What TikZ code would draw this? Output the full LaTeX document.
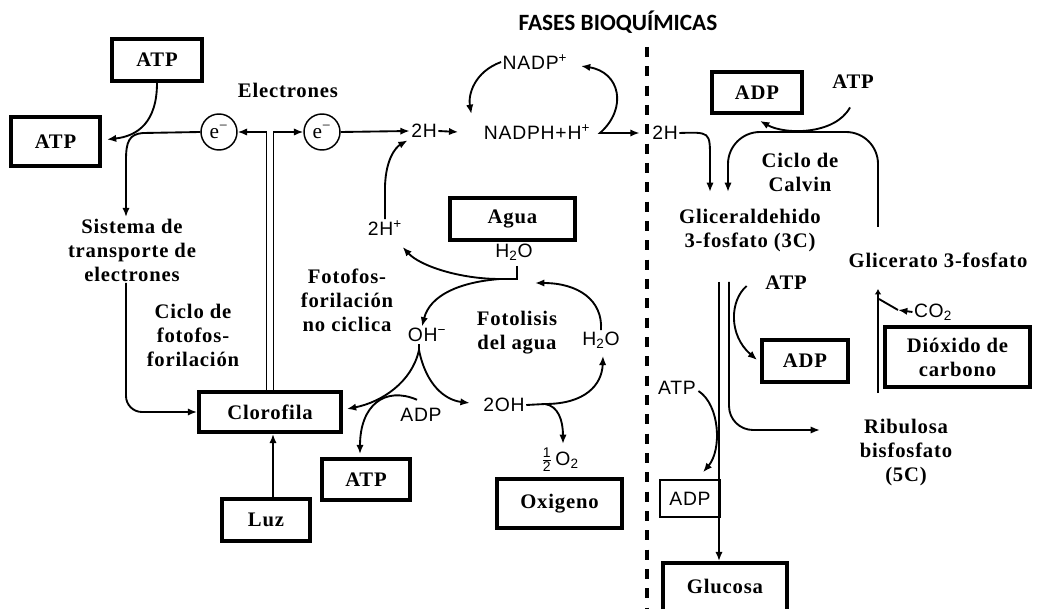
\documentclass[tikz,border=0pt]{standalone}
\usepackage{fontspec}
\setmainfont{Liberation Serif}
\newfontfamily\serf[LetterSpace=4]{Liberation Serif}
\newfontfamily\sansf[LetterSpace=4]{Liberation Sans}
\newfontfamily\titf{Carlito}
\usetikzlibrary{arrows.meta,calc}
\newcommand\SerB{\serf\bfseries\fontsize{15.5}{18}\selectfont}
\newcommand\SanR{\sansf\fontsize{14.5}{16}\selectfont}
\newcommand\SanD{\sansf\fontsize{10.5}{11}\selectfont}
\begin{document}
\begin{tikzpicture}[x=0.75pt,y=-0.75pt,
  box/.style={draw,line width=2.8pt,inner sep=0pt,font=\SerB,align=center},
  txt/.style={inner sep=1pt,font=\SerB,align=center},
  stxt/.style={inner sep=1pt,font=\SanR},
  ecirc/.style={draw,circle,line width=1.1pt,minimum size=27pt,inner sep=0pt,font=\serf\fontsize{16}{18}\selectfont},
  ln/.style={line width=1.4pt},
  arr/.style={line width=1.4pt,-{Latex[length=7pt,width=5.5pt]}},
  darr/.style={line width=1.4pt,{Latex[length=7pt,width=5.5pt]}-{Latex[length=7pt,width=5.5pt]}},
  dl/.style={line width=1.2pt,-{Latex[length=7pt,width=5.5pt]}}]
\useasboundingbox (0,0) rectangle (1037,609);
\fill[white] (0,0) rectangle (1037,609);

% title and divider
\node[font=\titf\bfseries\fontsize{17.5}{20}\selectfont] (tit) at (618,22) {FASES BIOQUÍMICAS};
\coordinate (dv1) at (647,47);
\coordinate (dv2) at (647,612);
\draw[line width=2.4pt,dash pattern=on 7.5pt off 7pt] (dv1) -- (dv2);

% left part
\node[box,minimum width=67.5pt,minimum height=31.5pt] (atpT) at (157,60) {ATP};
\node[box,minimum width=66.75pt,minimum height=36.75pt] (atpL) at (55.5,141.5) {ATP};
\node[txt] (elec) at (288,90) {Electrones};
\node[ecirc] (e1) at (219,132) {e\textsuperscript{−}};
\node[ecirc] (e2) at (322,132) {e\textsuperscript{−}};
\node[txt] (sis) at (132,250) {Sistema de\\transporte de\\electrones};
\node[txt] (cic) at (193,335) {Ciclo de\\fotofos-\\forilación};
\node[box,minimum width=106.5pt,minimum height=30pt] (cloro) at (270,412) {Clorofila};
\node[box,minimum width=66pt,minimum height=31.5pt] (luz) at (266,520) {Luz};

\draw[arr] (atpT.south) .. controls (157,122) and (138,136) .. ($(atpL.east)+(5,-2)$);
\draw[arr] (e1.west) -- (143,133) .. controls (129,134) and (126,142) .. (126,160) -- ([xshift=-4.5pt]sis.north);
\draw[arr,rounded corners=12pt] ([xshift=-4.5pt]sis.south) |- (cloro.west);
\draw[dl] ([xshift=-2.5pt]cloro.north) |- (e1.east);
\draw[dl] ([xshift=2.75pt]cloro.north) |- (e2.west);
\draw[arr] ([xshift=5.25pt]luz.north) -- ([xshift=5.25pt]luz.north |- cloro.south);

% middle part
\node[stxt] (h2a) at (424,131) {2H};
\node[stxt] (nadph) at (537,132) {NADPH+H\textsuperscript{+}};
\node[stxt] (nadp) at (535,62) {NADP\textsuperscript{+}};
\node[stxt] (h2p) at (385,228) {2H\textsuperscript{+}};
\node[box,minimum width=93.75pt,minimum height=31.5pt] (agua) at (512.5,219) {Agua};
\node[stxt] (h2o1) at (514,252) {H\textsubscript{2}O};
\node[txt] (fnc) at (347,300) {Fotofos-\\forilación\\no ciclica};
\node[stxt] (oh) at (427,335) {OH\textsuperscript{−}};
\node[txt] (fot) at (517,333) {Fotolisis\\del agua};
\node[stxt] (h2o2) at (601,340) {H\textsubscript{2}O};
\node[stxt] (ohh) at (504,405) {2OH};
\node[stxt] (adp1) at (421,415) {ADP};
\node[box,minimum width=66pt,minimum height=30.75pt] (atpM) at (366,479.5) {ATP};
\node[stxt] (o2) at (560,460) {$\frac{\mbox{\SanD 1}}{\mbox{\SanD 2}}$\,O\textsubscript{2}};
\node[box,minimum width=93.75pt,minimum height=36.75pt] (oxi) at (559.5,503.5) {Oxigeno};
\node[stxt] (h2r) at (665,133) {2H};

\coordinate (jw) at (500,279);
\coordinate (jr) at (535,283);
\coordinate (ohb) at (419,350);
\coordinate (ohj) at (545,404);
\coordinate (o2in) at (563,444);

\draw[arr] (e2.east) -- (h2a.west);
\draw[arr] (h2a.east) -- ($(nadph.west)+(-24,0)$);
\draw[arr] (nadp.west) .. controls (474,72) and (468,95) .. ($(nadph.north west)+(-11,-9)$);
\draw[darr] ($(nadp.east)+(12,4)$) .. controls (620,72) and (628,108) .. (600,133) -- ($(h2r.west)+(-11,0)$);
\draw[arr] (h2p.north) -- ++(0,-25) .. controls (384,160) and (396,147) .. ($(h2a.south west)+(-2,1)$);
\draw[ln] ($(h2o1.south)+(3,4)$) |- (jw);
\draw[arr] (jw) .. controls (460,279) and (420,266) .. ($(h2p.south east)+(-1,10)$);
\draw[arr] (jw) .. controls (460,282) and (430,295) .. ($(oh.north)+(-5,0)$);
\draw[arr] (h2o2.north) .. controls (603,300) and (578,283) .. (jr);
\draw[ln] ($(oh.south)+(-8,1)$) -- (ohb);
\draw[arr] (ohb) .. controls (412,382) and (382,402) .. ($(cloro.east)+(4,-3)$);
\draw[arr] (ohb) .. controls (426,385) and (445,400) .. ($(ohh.west)+(-12,-2)$);
\draw[arr] ($(adp1.north)+(-4,-7)$) .. controls (385,386) and (360,405) .. ($(atpM.north)+(-6,-3)$);
\draw[ln] (ohh.east) -- (ohj);
\draw[arr] (ohj) .. controls (585,404) and (602,385) .. ($(h2o2.south)+(2,6)$);
\draw[arr] (ohj) .. controls (558,406) and (563,420) .. (o2in);

% right part
\node[box,minimum width=67.5pt,minimum height=30.75pt] (adpT) at (757,92.5) {ADP};
\node[txt] (atpR) at (853,82) {ATP};
\node[txt] (calv) at (800,172) {Ciclo de\\Calvin};
\node[txt] (gli) at (750,231) {Gliceraldehido\\3-fosfato (3C)};
\node[txt] (glic) at (938,260) {Glicerato 3-fosfato};
\node[txt] (atpR2) at (786,283) {ATP};
\node[box,minimum width=64.5pt,minimum height=31.5pt] (adpM) at (805,361) {ADP};
\node[box,minimum width=108.75pt,minimum height=45pt] (dio) at (957.5,357) {Dióxido de\\carbono};
\node[stxt] (co2) at (933,312) {CO\textsubscript{2}};
\node[txt] (rib) at (906,453) {Ribulosa\\bisfosfato\\(5C)};
\node[stxt] (atpL2) at (677,388) {ATP};
\node[draw,line width=1.1pt,inner sep=0pt,minimum width=45pt,minimum height=27.75pt,font=\SanR] (adpL) at (690,498.5) {ADP};
\node[box,minimum width=93pt,minimum height=40.5pt] (glu) at (725,590) {\raisebox{6pt}{Glucosa}};

\coordinate (cl1) at (878,227);
\coordinate (cl2) at (728,192);
\coordinate (g2h) at (710,192);
\coordinate (gl1) at (719,282);
\coordinate (gl2) at (729,282);
\coordinate (ribin) at (820,430);
\coordinate (v1) at (878,393);
\coordinate (v2) at (878,289);
\coordinate (cmid) at (898,310);
\coordinate (cend) at (879,299);

\draw[arr] (h2r.east) .. controls (710,132) .. (710,158) -- (g2h);
\draw[arr,rounded corners=24pt] (cl1) -- (878,132) -- (728,132) -- (cl2);
\draw[arr] ($(atpR.south)+(-3,17)$) .. controls (835,135) and (785,135) .. ($(adpT.south)+(3,6)$);
\draw[arr] (gl1) -- (glu.north -| gl1);
\draw[arr,rounded corners=18pt] (gl2) |- (ribin);
\draw[arr] ($(atpR2.west)+(-17,3)$) .. controls (730,300) and (728,335) .. ($(adpM.west)+(-3,-1)$);
\draw[arr] ($(atpL2.east)+(1,3)$) .. controls (720,405) and (722,450) .. ($(adpL.north)+(13,-7)$);
\draw[line width=1.4pt,-{Latex[length=4pt,width=5pt]}] (v1) -- (v2);
\draw[arr] (co2.west) -- (cmid);
\draw[ln] (cmid) -- (cend);
\end{tikzpicture}
\end{document}
